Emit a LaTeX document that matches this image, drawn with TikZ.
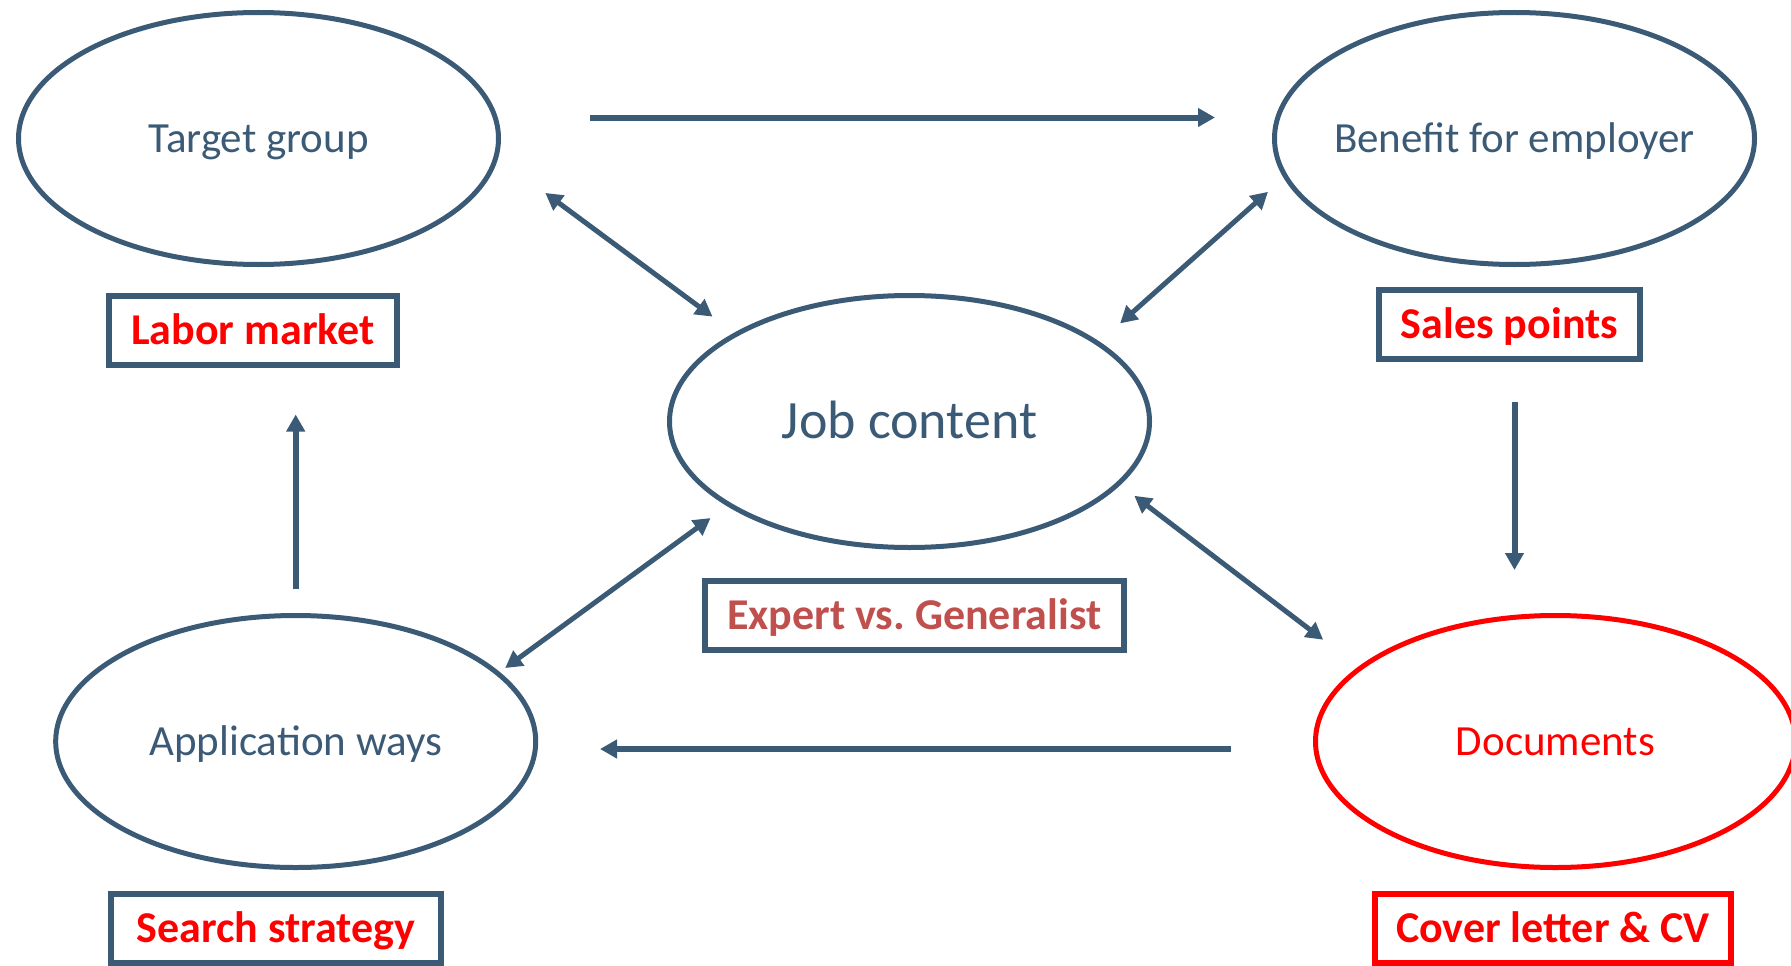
\documentclass[tikz,border=0pt]{standalone}
\usepackage{fontspec}
\setmainfont{Carlito}
\usepackage{xcolor}
\usepackage{tikz}
\usetikzlibrary{arrows.meta,shapes.geometric}

\definecolor{slate}{HTML}{3B5A76}
\definecolor{brick}{HTML}{C0504D}

\begin{document}
\begin{tikzpicture}[x=1pt,y=-1pt,
	bubble/.style={ellipse, draw=slate, line width=5pt, minimum width=480pt, minimum height=252pt, inner sep=0pt, outer sep=5pt, text=slate, font=\fontsize{43}{50}\selectfont, text height=27pt, text depth=0pt},
	tag/.style={rectangle, draw=slate, line width=6pt, minimum height=69pt, inner sep=0pt, text=red, font=\bfseries\fontsize{44}{52}\selectfont, text height=28pt, text depth=0pt},
	arr/.style={slate, line width=6pt, -{Triangle[length=17pt,width=18pt]}},
	link/.style={slate, line width=5pt, {Triangle[length=17pt,width=18pt]}-{Triangle[length=17pt,width=18pt]}}]
		\useasboundingbox (0,0) rectangle (1791,966);
		
		\node[bubble] (tg) at (258.5,138.5) {\makebox[0pt]{Target group}};
		\node[bubble] (bfe) at (1514.5,138.5) {\makebox[0pt]{Benefit for employer}};
		\node[bubble, font=\fontsize{54}{60}\selectfont, text height=34pt] (jc) at (909.5,421.5) {\makebox[0pt]{Job content}};
		\node[bubble] (aw) at (295.7,741.5) {\makebox[0pt]{Application ways}};
		\node[bubble, draw=red, text=red] (doc) at (1555.5,741.5) {\makebox[0pt]{Documents}};
		
		\node[tag, minimum width=288pt] (lm) at (253,330) {Labor market};
		\node[tag, minimum width=261pt] (sp) at (1509.5,324.5) {Sales points};
		\node[tag, minimum width=419.5pt, text=brick] (evg) at (914.25,615.5) {Expert vs.\ Generalist};
		\node[tag, minimum width=330pt] (ss) at (276,928.5) {Search strategy};
		\node[tag, minimum width=356pt, draw=red] (cv) at (1553,928.5) {Cover letter \& CV};
		
		\draw[arr, shorten <=86.5pt, shorten >=54.5pt] ([yshift=21pt]tg.east) -- ([yshift=21pt]bfe.west);
		\draw[arr, shorten <=40pt, shorten >=40.5pt] (bfe.south |- sp.south) -- (bfe.south |- doc.north);
		\draw[arr, shorten <=79.5pt, shorten >=59.3pt] ([yshift=-7.5pt]doc.west) -- ([yshift=-7.5pt]aw.east);
		\draw[arr, shorten <=21.5pt, shorten >=47pt] (aw.north) -- (aw.north |- lm.south);
		
		\draw[link, shorten <=56pt, shorten >=24.4pt] (tg.-5.3) -- (jc.153.2);
		\draw[link, shorten <=25pt, shorten >=18.5pt] (jc.23.4) -- (bfe.190.9);
		\draw[link, shorten <=15.3pt, shorten >=41.9pt] (jc.-17.75) -- (doc.159.4);
		\draw[link, shorten <=17.7pt, shorten >=4.3pt] (jc.205.8) -- (aw.19);
	\end{tikzpicture}
\end{document}
